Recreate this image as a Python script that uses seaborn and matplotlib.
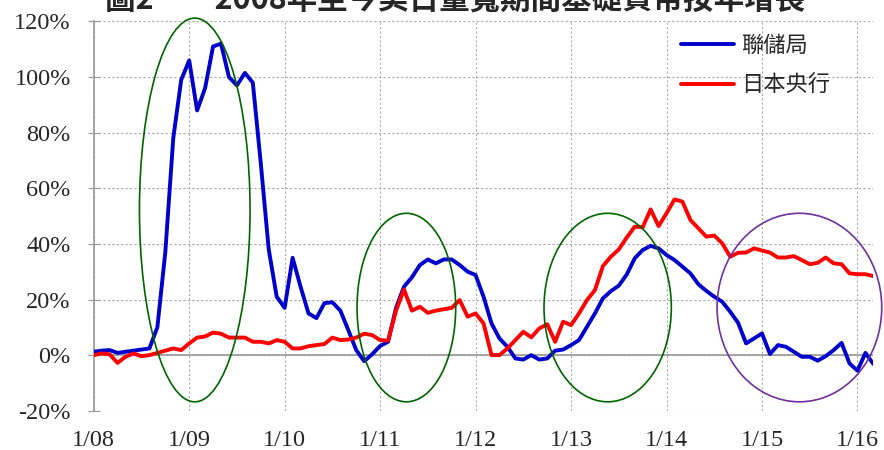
import seaborn as sns
import pandas as pd
import matplotlib.pyplot as plt
from matplotlib.patches import Ellipse
from matplotlib.ticker import FuncFormatter

# monthly YoY growth of monetary base, Jan 2008 .. Mar 2016
fed = [1.2, 1.6, 1.8, 0.8, 1.2, 1.6, 2.0, 2.4, 10, 37, 78, 99,
       106, 88, 96, 111, 112, 100, 97, 101.5, 98, 69, 38, 21,
       17, 35, 24.6, 15, 13.3, 18.7, 19, 16, 9, 1.8, -2.2, 0.3,
       3.3, 4.8, 17, 24.6, 28, 32.4, 34.4, 33, 34.4, 34.4, 32.4, 30,
       28.8, 21, 11.4, 6, 3, -1.2, -1.6, 0, -1.6, -1.2, 1.6, 2.0,
       3.6, 5.4, 10.2, 15, 20.4, 23, 25, 29, 34.8, 37.8, 39.3, 38.4,
       36, 34.2, 31.8, 29.4, 25.5, 23.1, 21, 19.2, 15.6, 11.6, 4.2, 6,
       7.8, 0.4, 3.6, 3.0, 1.2, -0.6, -0.6, -2, -0.4, 1.8, 4.4, -3,
       -5.6, 0.8, -3.2]
boj = [0, 0.6, 0.3, -2.8, -0.6, 0.6, -0.4, 0, 0.8, 1.6, 2.4, 1.8,
       4.2, 6.3, 6.7, 8.1, 7.7, 6.3, 6.3, 6.3, 4.8, 4.8, 4.2, 5.4,
       4.8, 2.4, 2.4, 3.2, 3.6, 4, 6.3, 5.4, 5.6, 6.3, 7.7, 7.2,
       5.4, 5.2, 16, 23.6, 16, 17.4, 15.2, 16, 16.5, 17, 19.8, 13.8,
       15, 11.4, 0, 0, 2.4, 5.4, 8.4, 6.4, 9.6, 11.1, 4.8, 12,
       10.8, 15, 19.8, 23.4, 32, 35.4, 38, 42.3, 46.2, 46, 52.4, 46.4,
       51, 56, 55.2, 48.6, 45.6, 42.6, 43, 40.2, 35.4, 36.8, 36.9, 38.4,
       37.6, 36.9, 35.1, 35.1, 35.6, 34.2, 32.7, 33.2, 35.1, 33, 32.7, 29.4,
       29.1, 29.1, 28.4]
year_labels = ['1/08', '1/09', '1/10', '1/11', '1/12', '1/13', '1/14', '1/15', '1/16']
series_names = ['聯儲局', '日本央行']
title = '圖2　　2008年至今美日量寬期間基礎貨幣按年增長'

months = list(range(len(fed)))
df = pd.concat([
    pd.DataFrame({'month': months, 'value': fed, 'bank': series_names[0]}),
    pd.DataFrame({'month': months, 'value': boj, 'bank': series_names[1]}),
])

sns.set_style('white')
plt.rcParams['font.family'] = ['Liberation Serif', 'Noto Sans CJK TC']
plt.rcParams['axes.unicode_minus'] = False

fig = plt.figure(figsize=(8.84, 4.5), dpi=100)
ax = fig.add_axes([0.106, 0.0873, 0.882, 0.865])

ax.grid(True, color='#aaaaaa', linestyle=(0, (2, 2)), linewidth=0.8)
ax.axhline(0, color='#999999', linewidth=1.2, zorder=1)

sns.lineplot(data=df, x='month', y='value', hue='bank',
             palette={series_names[0]: '#0000cc', series_names[1]: '#ff0000'},
             linewidth=2.8, ax=ax, zorder=3)

ax.set_xlim(0, 98)
ax.set_ylim(-20, 120)
ax.set_xticks(range(0, 97, 12))
ax.set_xticklabels(year_labels)
ax.set_yticks(range(-20, 121, 20))
ax.yaxis.set_major_formatter(FuncFormatter(lambda v, p: f'{v:.0f}%'))
ax.tick_params(axis='x', length=0, pad=14, labelsize=17.5)
ax.tick_params(axis='y', direction='inout', length=9, color='#999999',
               pad=12, labelsize=17.5, left=True)
ax.set_xlabel('')
ax.set_ylabel('')
for s in ['top', 'right', 'bottom']:
    ax.spines[s].set_visible(False)
ax.spines['left'].set_color('#999999')
ax.spines['left'].set_linewidth(1.2)

# highlight ellipses
ells = [(12.7, 52.2, 13.9, 138, '#006400'),
        (39.3, 17.1, 12.4, 67.8, '#006400'),
        (64.6, 17.1, 16.0, 67.8, '#006400'),
        (88.7, 17.1, 20.7, 67.8, '#7030a0')]
for cx, cy, w, h, c in ells:
    ax.add_patch(Ellipse((cx, cy), w, h, fill=False, edgecolor=c,
                         linewidth=1.2, zorder=4, clip_on=False))

ax.legend(frameon=False, loc='upper left', bbox_to_anchor=(0.770, 0.925),
          bbox_transform=fig.transFigure, borderpad=0, borderaxespad=0,
          handlelength=2.4, handletextpad=0.3, labelspacing=0.75,
          prop={'family': 'Noto Sans CJK TC', 'size': 16})

# the title sits half outside the top edge, as in the source image
fig.text(0.515, 1.0, title, ha='center', va='center', fontsize=22,
         fontweight='bold', family=['Noto Sans CJK TC'])

fig.savefig('out.png', dpi=100)
